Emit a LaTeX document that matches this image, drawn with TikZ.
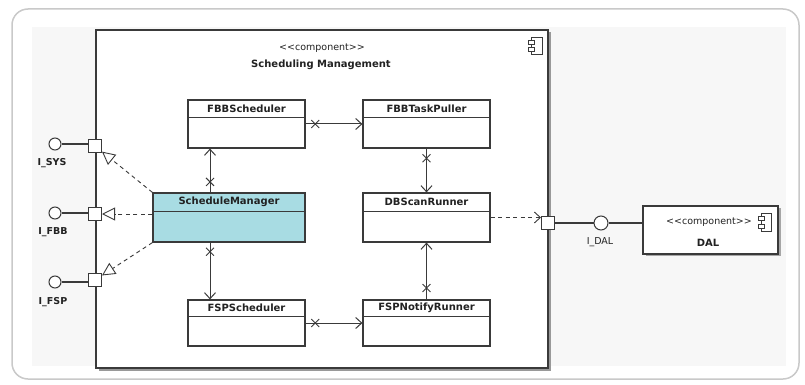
\documentclass[tikz,border=0pt]{standalone}
\usepackage{fontspec}
\setmainfont{DejaVu Sans}
\usetikzlibrary{arrows.meta,shapes.misc,shadows,calc}
\definecolor{linec}{HTML}{3A3A3A}
\definecolor{framec}{HTML}{C9C9C9}
\definecolor{panelc}{HTML}{F7F7F7}
\definecolor{smfill}{HTML}{A8DCE3}
\definecolor{textc}{HTML}{222222}
\newcommand{\stereotxt}{<{}<component>{}>}
\begin{document}
\begin{tikzpicture}[x=1pt,y=-1pt,
  every node/.style={text=textc},
  compbox/.style={draw=linec, line width=1.1pt, fill=white, inner sep=0pt,
    drop shadow={shadow xshift=2.5pt, shadow yshift=-2.5pt, fill=black!40, opacity=1}},
  clsbox/.style={draw=linec, line width=1.2pt, fill=white, inner sep=0pt},
  clsname/.style={font=\fontsize{10}{12}\bfseries\selectfont, inner sep=0pt},
  stereo/.style={font=\fontsize{9.5}{11}\selectfont, inner sep=0pt},
  portbox/.style={draw=linec, line width=1pt, fill=white, minimum size=13pt, inner sep=0pt},
  lolli/.style={circle, draw=linec, line width=1pt, fill=white, minimum size=12pt, inner sep=0pt},
  portlbl/.style={font=\fontsize{9.5}{11}\bfseries\selectfont, inner sep=0pt},
  nav/.style={draw=linec, line width=1pt, -{Straight Barb[length=6pt,width=11pt]}},
  xmark/.style={cross out, draw=linec, line width=0.9pt, minimum size=7pt, inner sep=0pt},
  real/.style={draw=linec, line width=0.9pt, dash pattern=on 4pt off 3.5pt,
    -{Triangle[length=13pt,width=13pt,fill=white,line width=0.9pt]}},
  depend/.style={draw=linec, line width=0.9pt, dash pattern=on 4pt off 3.5pt,
    -{Straight Barb[length=6pt,width=11pt]}},
  wire/.style={draw=linec, line width=1.2pt}
]
\useasboundingbox (0,0) rectangle (805,385);
% outer frame and panel
\draw[framec, line width=1.5pt, fill=white, rounded corners=16pt] (12,9) rectangle (799,379);
\fill[panelc] (32,27) rectangle (786,366);

% Scheduling Management component
\node[compbox, minimum width=452pt, minimum height=338pt] (mgmt) at (322,199) {};
\node[stereo] (mgmtst) at (322,48) {\stereotxt};
\node[clsname] (mgmtnm) at (321,65) {Scheduling Management};
% component icon
\draw[linec, line width=0.9pt, fill=white] (531,37) rectangle (542,54);
\draw[linec, line width=0.9pt, fill=white] (528,40) rectangle (534,44);
\draw[linec, line width=0.9pt, fill=white] (528,47) rectangle (534,51);

% classes
\node[clsbox, minimum width=117pt, minimum height=48pt] (fbbs) at (246.5,124) {};
\node[clsname] at ([yshift=-9pt]fbbs.north) {FBBScheduler};
\draw[linec, line width=1.1pt] ([yshift=-18pt]fbbs.north west) -- ([yshift=-18pt]fbbs.north east);

\node[clsbox, minimum width=127pt, minimum height=48pt] (fbbt) at (426.5,124) {};
\node[clsname] at ([yshift=-9pt]fbbt.north) {FBBTaskPuller};
\draw[linec, line width=1.1pt] ([yshift=-18pt]fbbt.north west) -- ([yshift=-18pt]fbbt.north east);

\node[clsbox, fill=smfill, minimum width=152pt, minimum height=49pt] (smgr) at (229,217.5) {};
\node[clsname] at ([yshift=-9.5pt]smgr.north) {ScheduleManager};
\draw[linec, line width=1.1pt] ([yshift=-19pt]smgr.north west) -- ([yshift=-19pt]smgr.north east);

\node[clsbox, minimum width=127pt, minimum height=49pt] (dbs) at (426.5,217.5) {};
\node[clsname] at ([yshift=-9.5pt]dbs.north) {DBScanRunner};
\draw[linec, line width=1.1pt] ([yshift=-19pt]dbs.north west) -- ([yshift=-19pt]dbs.north east);

\node[clsbox, minimum width=117pt, minimum height=46pt] (fsps) at (246.5,323) {};
\node[clsname] at ([yshift=-8.5pt]fsps.north) {FSPScheduler};
\draw[linec, line width=1.1pt] ([yshift=-17pt]fsps.north west) -- ([yshift=-17pt]fsps.north east);

\node[clsbox, minimum width=127pt, minimum height=46pt] (fspn) at (426.5,323) {};
\node[clsname] at ([yshift=-8.5pt]fspn.north) {FSPNotifyRunner};
\draw[linec, line width=1.1pt] ([yshift=-17pt]fspn.north west) -- ([yshift=-17pt]fspn.north east);

% associations between classes
\draw[nav] (fbbs) -- node[xmark, pos=0.17] {} (fbbt);
\draw[nav] ([xshift=-19pt]smgr.north) -- node[xmark, pos=0.24] {} ([xshift=-19pt]smgr.north |- fbbs.south);
\draw[nav] (fbbt) -- node[xmark, pos=0.22] {} (dbs);
\draw[nav] ([xshift=-19pt]smgr.south) -- node[xmark, pos=0.16] {} ([xshift=-19pt]smgr.south |- fsps.north);
\draw[nav] (fsps) -- node[xmark, pos=0.17] {} (fspn);
\draw[nav] (fspn) -- node[xmark, pos=0.2] {} (dbs);

% left ports with provided interfaces
\node[portbox] (p1) at (95,146) {};
\node[portbox] (p2) at (95,214) {};
\node[portbox] (p3) at (95,280) {};
\node[lolli] (l1) at (55,144) {};
\node[lolli] (l2) at (55,213) {};
\node[lolli] (l3) at (55,282) {};
\draw[wire] (l1) -- (l1 -| p1.west);
\draw[wire] (l2) -- (l2 -| p2.west);
\draw[wire] (l3) -- (l3 -| p3.west);
\node[portlbl] at (52,163) {I\_SYS};
\node[portlbl] at (53,232) {I\_FBB};
\node[portlbl] at (53,302) {I\_FSP};

\draw[real] (smgr.north west) -- (p1);
\draw[real] (smgr.west |- p2) -- (p2);
\draw[real] (smgr.south west) -- (p3);

% right port towards DAL
\node[portbox] (pd) at (548,223) {};
\draw[depend] (dbs.east) -- (dbs.east -| pd.west);
\node[lolli, minimum size=14pt] (ld) at (601,223) {};
\node[clsbox, minimum width=135pt, minimum height=48pt,
  drop shadow={shadow xshift=2.5pt, shadow yshift=-2pt, fill=black!35, opacity=1}] (bal) at (710.5,230) {};
\draw[wire] (pd) -- (ld);
\draw[wire] (ld) -- (ld -| bal.west);
\node[stereo] at (600,242) {I\_DAL};
\node[stereo] at (709,222) {\stereotxt};
\node[clsname] at (708,243) {DAL};
\draw[linec, line width=0.9pt, fill=white] (761,213) rectangle (771,231);
\draw[linec, line width=0.9pt, fill=white] (758,216) rectangle (764,220);
\draw[linec, line width=0.9pt, fill=white] (758,224) rectangle (764,228);
\end{tikzpicture}
\end{document}
